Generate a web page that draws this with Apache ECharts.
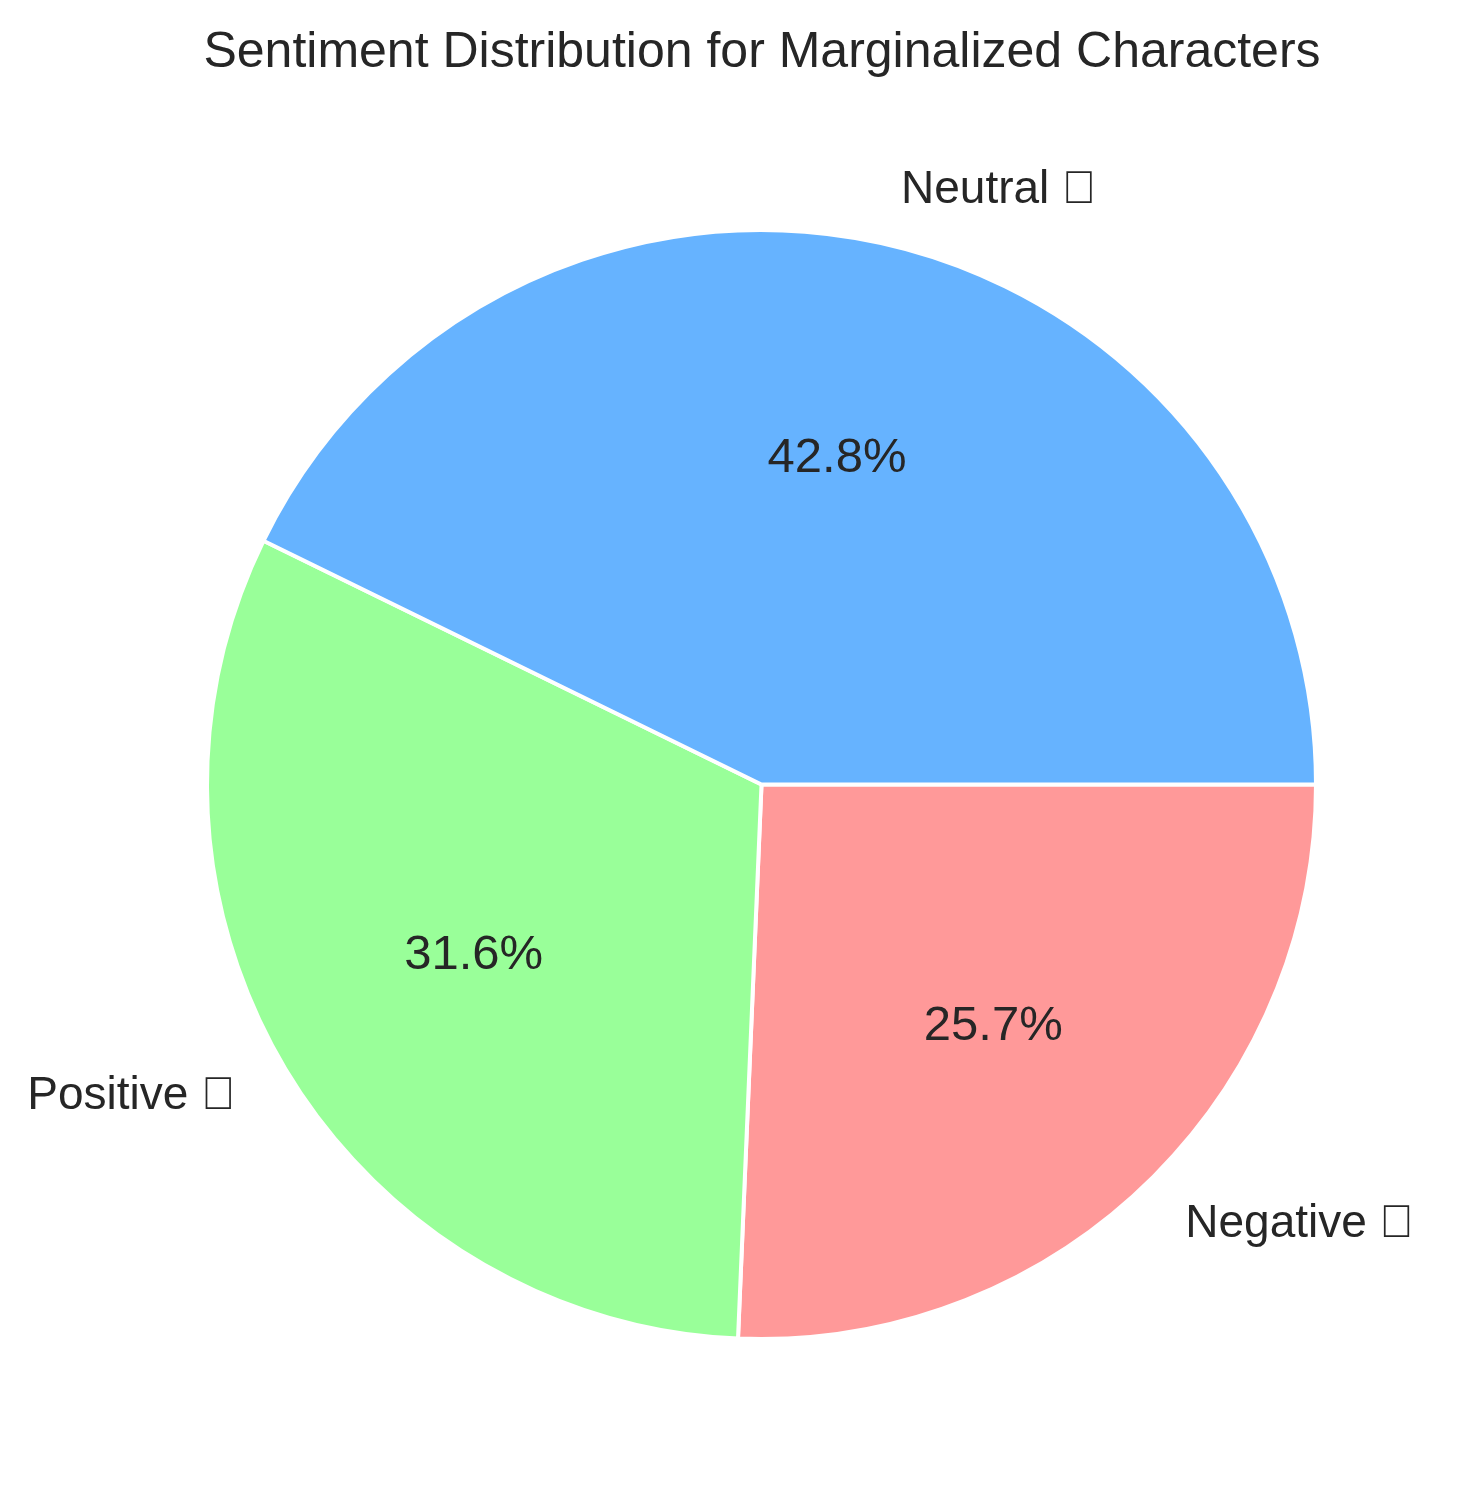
<!DOCTYPE html>
<html><head><meta charset="utf-8">
<style>html,body{margin:0;padding:0;background:#fff}#c{width:1484px;height:1507px}</style>
<script src="https://cdn.jsdelivr.net/npm/echarts@6/dist/echarts.min.js"></script></head>
<body><div id="c"></div>
<script>
const categories = ['Negative', 'Positive', 'Neutral'];
const values = [25.7, 31.6, 42.8];
const glyphs = ['\uE000', '\uE000', '\uE000'];
const colors = ['#FF9999', '#99FF99', '#66B3FF'];
const titleText = 'Sentiment Distribution for Marginalized Characters';
const FF = '"Liberation Sans", Arial, sans-serif';
const chart = echarts.init(document.getElementById('c'), null, {renderer: 'canvas'});
chart.setOption({
  animation: false,
  backgroundColor: '#fff',
  title: {text: titleText, left: 757, top: 23, textAlign: 'center',
    textStyle: {fontFamily: FF, fontSize: 50, fontWeight: 'normal', color: '#262626'}},
  series: [
    {type: 'pie', center: [761.5, 784.5], radius: [0, 554.5], startAngle: 0, clockwise: true, silent: true,
     avoidLabelOverlap: false,
     data: categories.map((n, i) => ({name: n, value: values[i], itemStyle: {color: colors[i]}})),
     itemStyle: {borderColor: '#fff', borderWidth: 4},
     label: {show: true, position: 'outside', fontFamily: FF, fontSize: 46, color: '#262626',
       formatter: p => p.name + ' ' + glyphs[p.dataIndex]},
     labelLine: {show: false, length: 55, length2: -3}},
    {type: 'pie', center: [761.5, 784.5], radius: [331, 333], startAngle: 0, clockwise: true, silent: true,
     data: categories.map((n, i) => ({name: n, value: values[i], itemStyle: {color: 'transparent'}})),
     label: {show: true, position: 'inner', fontFamily: FF, fontSize: 49, color: '#262626',
       formatter: p => values[p.dataIndex].toFixed(1) + '%'},
     labelLine: {show: false}}
  ]
});
</script></body></html>
